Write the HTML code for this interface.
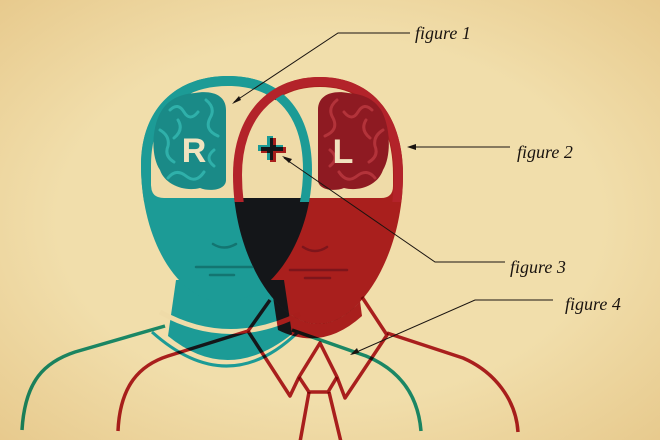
<!DOCTYPE html>
<html><head><meta charset="utf-8"><style>
html,body{margin:0;padding:0;width:660px;height:440px;overflow:hidden}
body{background:#efdba8}
svg{display:block}
.m{mix-blend-mode:multiply}
text.f{font-family:"Liberation Serif",serif;font-style:italic;font-size:18px;fill:#1a1410}
</style></head><body>
<svg width="660" height="440" viewBox="0 0 660 440" xmlns="http://www.w3.org/2000/svg">
<defs>
<radialGradient id="bg" cx="0.5" cy="0.5" r="0.75">
<stop offset="0.55" stop-color="#f1deab"/><stop offset="1" stop-color="#e6c789"/>
</radialGradient>
<path id="te" d="M228,76 C285,76 312,115 312,170 C312,240 270,302 224,302 C178,302 141,240 141,165 C141,110 175,76 228,76Z"/>
<path id="re" d="M320,77 C372,77 403,115 403,175 C403,255 360,324 318,324 C276,324 233,255 233,175 C233,115 268,77 320,77Z"/>
<clipPath id="ct"><path d="M228,76 C285,76 312,115 312,170 C312,240 270,302 224,302 C178,302 141,240 141,165 C141,110 175,76 228,76Z"/></clipPath>
<clipPath id="cr"><path d="M320,77 C372,77 403,115 403,175 C403,255 360,324 318,324 C276,324 233,255 233,175 C233,115 268,77 320,77Z"/></clipPath>
<clipPath id="top"><rect x="0" y="0" width="660" height="202"/></clipPath>
<mask id="nored"><rect width="660" height="440" fill="#fff"/><path d="M320,77 C372,77 403,115 403,175 C403,255 360,324 318,324 C276,324 233,255 233,175 C233,115 268,77 320,77Z" fill="#000"/></mask>
</defs>
<rect width="660" height="440" fill="url(#bg)"/>

<!-- bodies -->
<g fill="none" stroke-width="3.5" stroke-linejoin="round">
<path class="m" d="M22,430 C25,380 45,362 75,352 L165,326" stroke="#1c9b96"/>
<path class="m" d="M292,330 L366,356 C400,370 418,395 421,431" stroke="#1c9b96"/>
<path d="M176,280 L168,336 Q228,385 292,334 L284,280Z" fill="#1c9b96" stroke="none"/>
<path d="M160,312 Q228,350 300,314" stroke="#efdba8" stroke-width="5"/>
<path d="M152,332 Q228,400 298,332" stroke="#1c9b96" stroke-width="3"/>
</g>

<!-- head fills -->
<use href="#te" fill="#1c9b96"/>
<use href="#re" fill="#b3232a" class="m"/>
<g class="m" mask="url(#nored)">
<path d="M272,290 L278,330 Q322,352 362,316 L358,286Z" fill="#b3232a"/>
</g>
<g fill="none" stroke-width="3.5" stroke-linejoin="round">
<path class="m" d="M118,431 C120,385 140,365 168,356 L248,331 L270,300" stroke="#b3232a"/>
<path class="m" d="M248,331 L290,396 L299,377 L320,343 L337,377 L345,398 L387,335 L362,297" stroke="#b3232a"/>
<path class="m" d="M299,377 L309,392 L328,392 L337,377" stroke="#b3232a"/>
<path class="m" d="M387,333 L463,358 C495,372 516,400 518,432" stroke="#b3232a"/>
<path class="m" d="M309,392 L300,442 M329,392 L341,442" stroke="#b3232a"/>
</g>
<!-- windows -->
<path d="M228,86 C280,86 302,120 302,170 L302,185 Q302,198 289,198 L164,198 Q151,198 151,185 L151,165 C151,115 180,86 228,86Z" fill="#efdba8"/>
<path d="M320,87 C365,87 393,118 393,175 L393,186 Q393,198 381,198 L255,198 Q243,198 243,186 L243,175 C243,118 275,87 320,87Z" fill="#efdba8"/>
<g clip-path="url(#top)">
<g clip-path="url(#ct)"><use href="#te" fill="none" stroke="#1c9b96" stroke-width="18" class="m"/></g>
<g clip-path="url(#cr)"><use href="#re" fill="none" stroke="#b3232a" stroke-width="18" class="m"/></g>
</g>

<!-- brains -->
<path d="M195,93 C212,90 226,95 226,110 L226,180 C226,190 210,192 200,188 C185,192 165,185 160,170 C150,155 152,125 162,110 C170,98 182,94 195,93Z" fill="#1a8a87"/>
<path d="M170,110 q8,-8 14,2 q6,10 14,0 M160,130 q10,6 8,16 q-4,10 6,16 M168,178 q8,-10 18,-2 q10,8 18,-4 M206,100 q10,8 4,18 q-6,12 8,18 M214,150 q-10,8 0,16 M178,120 q6,10 -4,18" fill="none" stroke="#2fb0aa" stroke-width="3" stroke-linecap="round"/>
<path d="M348,93 C332,90 318,95 318,110 L318,180 C318,190 334,192 344,188 C360,192 378,185 383,170 C392,155 390,125 381,110 C373,98 362,94 348,93Z" fill="#8e1a22"/>
<path d="M372,110 q-8,-8 -14,2 q-6,10 -14,0 M383,130 q-10,6 -8,16 q4,10 -6,16 M375,178 q-8,-10 -18,-2 q-10,8 -18,-4 M337,100 q-10,8 -4,18 q6,12 -8,18 M330,150 q10,8 0,16 M366,120 q-6,10 4,18" fill="none" stroke="#b3333a" stroke-width="3" stroke-linecap="round"/>
<text x="194" y="162" text-anchor="middle" font-family="Liberation Sans,sans-serif" font-weight="bold" font-size="34" fill="#f1e3bf">R</text>
<text x="343" y="163" text-anchor="middle" font-family="Liberation Sans,sans-serif" font-weight="bold" font-size="34" fill="#f1e3bf">L</text>
<path d="M258,148 L283,148 M270,136 L270,160" stroke="#1c9b96" stroke-width="6"/>
<path d="M261,150 L286,150 M273,138 L273,162" stroke="#b3232a" stroke-width="6" class="m"/>

<!-- faces -->
<g fill="none" stroke-width="2.5" stroke-linecap="round">
<path d="M213,244 Q224,251 236,244 M196,267 L252,267 M210,275 L234,275" stroke="#137571"/>
<path d="M303,247 Q315,255 327,247 M290,270 L347,270 M305,278 L330,278" stroke="#7e151b"/>
</g>

<!-- leaders -->
<g fill="none" stroke="#1a1410" stroke-width="1">
<path d="M410,33 L338,33 L234,102"/>
<path d="M510,147 L409,147"/>
<path d="M505,262 L435,262 L284,158"/>
<path d="M553,300 L475,300 L352,354"/>
</g>
<g fill="#1a1410">
<path d="M232,104 L239,96 L241,100Z"/>
<path d="M407,147 L416,144 L416,150Z"/>
<path d="M282,156 L292,159 L289,163Z"/>
<path d="M350,355 L357,348 L359,353Z"/>
</g>
<text class="f" x="415" y="39">figure 1</text>
<text class="f" x="517" y="158">figure 2</text>
<text class="f" x="510" y="273">figure 3</text>
<text class="f" x="565" y="310">figure 4</text>
</svg>
</body></html>
